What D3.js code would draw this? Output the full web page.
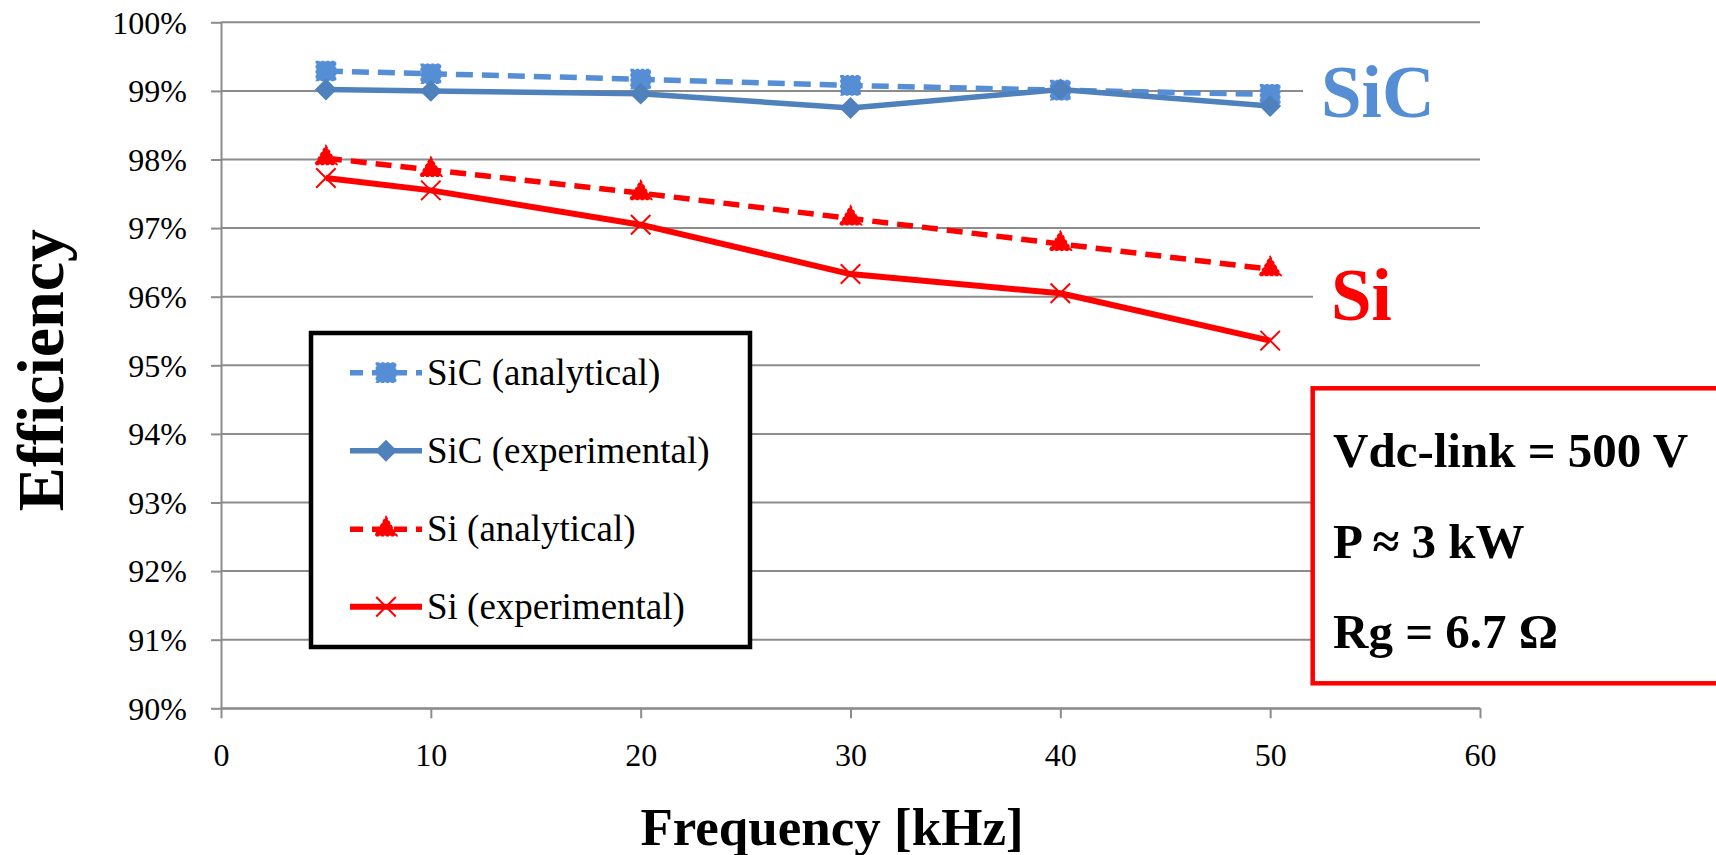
<!DOCTYPE html>
<html lang="en">
<head>
<meta charset="utf-8">
<title>Efficiency vs frequency</title>
<script src="https://d3js.org/d3.v7.min.js"></script>
<style>
  body { margin: 0; background: #fff; }
  svg { display: block; font-family: "Liberation Serif", "Times New Roman", serif; }
</style>
</head>
<body>
<script>
// data
var freqs = [5, 10, 20, 30, 40, 50]
var sicAnalytical = [99.29, 99.25, 99.17, 99.08, 99.01, 98.95]
var sicExperimental = [99.02, 99.00, 98.96, 98.75, 99.02, 98.78]
var siAnalytical = [98.02, 97.85, 97.51, 97.14, 96.77, 96.40]
var siExperimental = [97.73, 97.55, 97.05, 96.33, 96.05, 95.36]
var seriesNames = ["SiC (analytical)", "SiC (experimental)", "Si (analytical)", "Si (experimental)"]
var xTicks = [0, 10, 20, 30, 40, 50, 60]
var yTicks = [90, 91, 92, 93, 94, 95, 96, 97, 98, 99, 100]
var infoLines = ["Vdc-link = 500 V", "P \u2248 3 kW", "Rg = 6.7 \u03A9"]

var W = 1716, H = 855
var plotL = 221, plotR = 1480, plotT = 22.3, plotB = 708.3
var gridColor = "#8c8c8c"
var serif = "Liberation Serif, Times New Roman, serif"

var x = d3.scaleLinear().domain([0, 60]).range([plotL, plotR])
var y = d3.scaleLinear().domain([90, 100]).range([plotB, plotT])

var svg = d3.select("body").append("svg").attr("width", W).attr("height", H)

// gridlines
svg.append("g").selectAll("line").data(yTicks).enter().append("line")
    .attr("x1", plotL).attr("x2", plotR)
    .attr("y1", function (d) { return y(d) }).attr("y2", function (d) { return y(d) })
    .attr("stroke", gridColor).attr("stroke-width", 2)

// axes
var yAxis = svg.append("g").attr("transform", "translate(" + plotL + ",0)")
    .call(d3.axisLeft(y).tickValues(yTicks).tickSize(10).tickSizeOuter(0).tickPadding(24)
        .tickFormat(function (d) { return d + "%" }))
var xAxis = svg.append("g").attr("transform", "translate(0," + plotB + ")")
    .call(d3.axisBottom(x).tickValues(xTicks).tickSize(10).tickSizeOuter(0).tickPadding(25))
;[yAxis, xAxis].forEach(function (a) {
    a.attr("font-size", 32).attr("font-family", serif)
    a.selectAll("path, line").attr("stroke", gridColor).attr("stroke-width", 2)
    a.selectAll("text").style("font-size", "32px").attr("fill", "#000")
})
yAxis.selectAll("text").attr("dy", "0.34em")

// series
var series = [
    {name: seriesNames[0], values: sicAnalytical, color: "#558ED5", dash: "17,9", width: 5.5, sym: d3.symbolSquare, size: 370, fill: true},
    {name: seriesNames[1], values: sicExperimental, color: "#4F81BD", dash: null, width: 5.5, sym: d3.symbolDiamond2, size: 250, fill: true},
    {name: seriesNames[2], values: siAnalytical, color: "#FF0000", dash: "16,9", width: 5.5, sym: d3.symbolTriangle, size: 210, fill: true},
    {name: seriesNames[3], values: siExperimental, color: "#FF0000", dash: null, width: 6, sym: d3.symbolX || d3.symbolCross, size: 250, fill: false}
]

var line = d3.line()
    .x(function (d, i) { return x(freqs[i]) })
    .y(function (d) { return y(d) })

function drawMarker(g, s, cx, cy) {
    var p = g.append("path").attr("d", d3.symbol().type(s.sym).size(s.size)())
        .attr("transform", "translate(" + cx + "," + cy + ")")
    if (s.fill) {
        p.attr("fill", s.color).attr("stroke", s.color).attr("stroke-width", 1.5)
        if (s.dash) p.attr("stroke-dasharray", "3,2")
    } else {
        p.attr("fill", "none").attr("stroke", s.color).attr("stroke-width", 2)
    }
}

// text labels for material groups (with white backgrounds covering gridlines)
function labelWithBg(txt, tx, ty, color) {
    var g = svg.append("g")
    var r = g.append("rect").attr("fill", "#fff")
    var t = g.append("text").attr("x", tx).attr("y", ty).text(txt)
        .attr("font-size", 73).attr("font-weight", "bold").attr("fill", color)
    var b = t.node().getBBox()
    r.attr("x", b.x - 18).attr("y", b.y).attr("width", plotR - b.x + 40).attr("height", b.height)
}
labelWithBg("SiC", 1321, 117, "#558ED5")
labelWithBg("Si", 1331, 320, "#FF0000")

series.forEach(function (s) {
    var g = svg.append("g")
    g.append("path").datum(s.values).attr("d", line)
        .attr("fill", "none").attr("stroke", s.color).attr("stroke-width", s.width)
        .attr("stroke-dasharray", s.dash).attr("stroke-linejoin", "round")
    s.values.forEach(function (v, i) { drawMarker(g, s, x(freqs[i]), y(v)) })
})

// legend
var lg = svg.append("g")
lg.append("rect").attr("x", 311).attr("y", 333).attr("width", 439).attr("height", 314)
    .attr("fill", "#fff").attr("stroke", "#000").attr("stroke-width", 4.5)
var rowY = [372.7, 450.7, 529.3, 606.7]
series.forEach(function (s, i) {
    var cy = rowY[i]
    lg.append("line").attr("x1", 350).attr("x2", 422).attr("y1", cy).attr("y2", cy)
        .attr("stroke", s.color).attr("stroke-width", s.width).attr("stroke-dasharray", s.dash ? "13,9" : null)
    drawMarker(lg, s, 386, cy)
    lg.append("text").attr("x", 427).attr("y", cy + 12).text(s.name)
        .attr("font-size", 37).attr("fill", "#000")
})

// info box
var ib = svg.append("g")
ib.append("rect").attr("x", 1312.7).attr("y", 388.3).attr("width", 420).attr("height", 295)
    .attr("fill", "#fff").attr("stroke", "#FF0000").attr("stroke-width", 4.5)
infoLines.forEach(function (t, i) {
    ib.append("text").attr("x", 1333).attr("y", 467 + i * 90.5).text(t)
        .attr("font-size", 49).attr("font-weight", "bold").attr("fill", "#000")
})

// axis titles
svg.append("text").attr("x", 832).attr("y", 845).attr("text-anchor", "middle")
    .attr("font-size", 53).attr("font-weight", "bold").text("Frequency [kHz]")
svg.append("text").attr("transform", "translate(63,370) rotate(-90)").attr("text-anchor", "middle")
    .attr("font-size", 66).attr("font-weight", "bold").text("Efficiency")
</script>
</body>
</html>
